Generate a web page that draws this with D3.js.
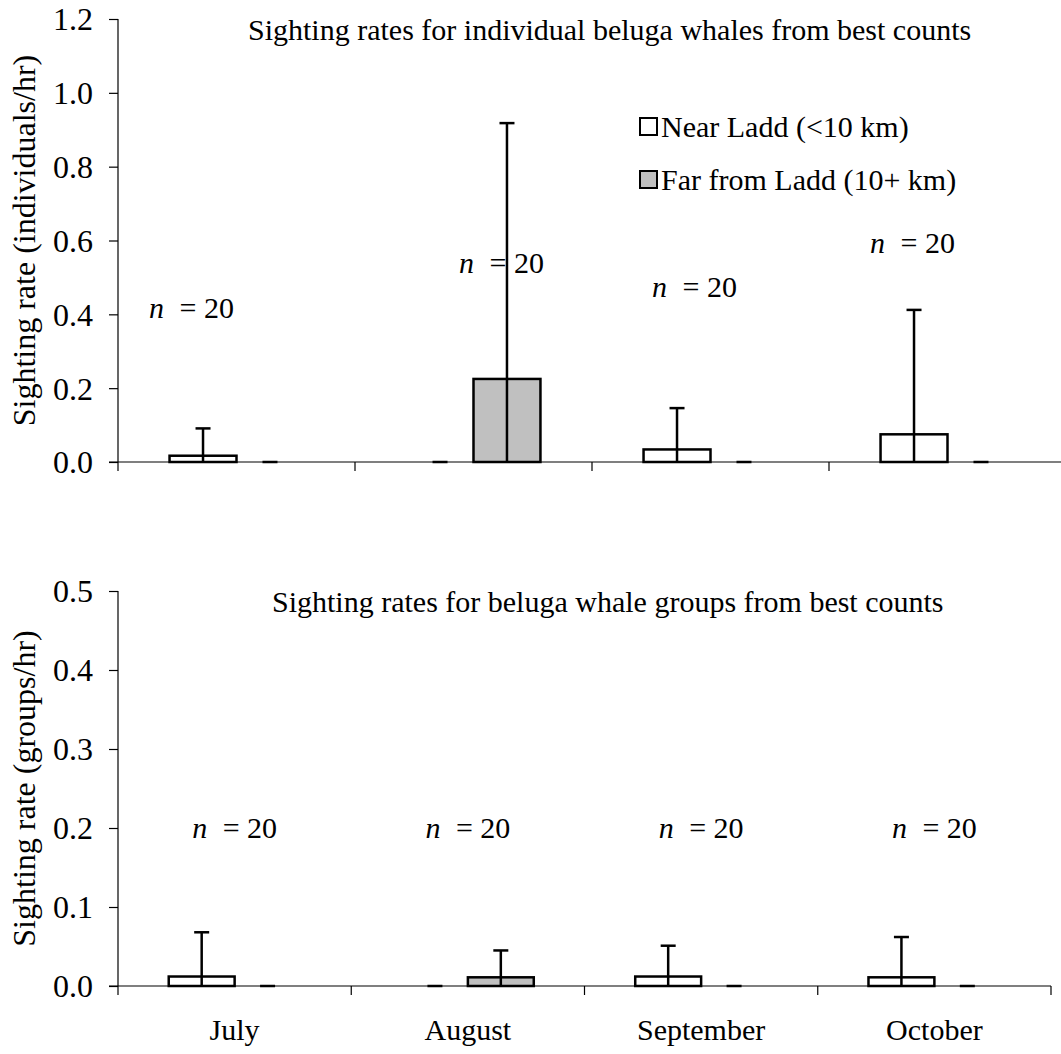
<!DOCTYPE html>
<html>
<head>
<meta charset="utf-8">
<script src="https://cdn.jsdelivr.net/npm/d3@7"></script>
<style>
  html, body { margin: 0; padding: 0; background: #fff; }
  svg text { font-family: "Liberation Serif", "Times New Roman", serif; fill: #000; }
</style>
</head>
<body>
<svg id="chart" width="1061" height="1054"></svg>
<script>
// Months surveyed
const months = ["July", "August", "September", "October"];
const zones = ["near", "far"];
const zoneLabels = ["Near Ladd (<10 km)", "Far from Ladd (10+ km)"];

// Individuals per hour (best counts): mean and upper error
const indivNear    = [0.017, 0.000, 0.034, 0.075];
const indivNearErr = [0.074, 0.000, 0.112, 0.337];
const indivFar     = [0.000, 0.225, 0.000, 0.000];
const indivFarErr  = [0.000, 0.693, 0.000, 0.000];

// Groups per hour (best counts): mean and upper error
const groupNear    = [0.012, 0.000, 0.012, 0.011];
const groupNearErr = [0.056, 0.000, 0.039, 0.051];
const groupFar     = [0.000, 0.011, 0.000, 0.000];
const groupFarErr  = [0.000, 0.034, 0.000, 0.000];

// Sample sizes per month
const sampleN = [20, 20, 20, 20];

// Axis ticks
const indivTicks = [0, 0.2, 0.4, 0.6, 0.8, 1.0, 1.2];
const groupTicks = [0, 0.1, 0.2, 0.3, 0.4, 0.5];

const svg = d3.select("#chart");
const FONT = 30;
const TICK_FONT = 32;

function drawPanel(cfg) {
  const g = svg.append("g");
  const x0 = d3.scaleBand().domain(months).range([cfg.left, cfg.right])
    .paddingInner(0.435).paddingOuter(0.2175);
  const x1 = d3.scaleBand().domain(zones).range([0, x0.bandwidth()]);
  const y = d3.scaleLinear().domain(cfg.domain).range([cfg.bottom, cfg.top]);

  const rows = months.map((m, i) => ({
    month: m,
    values: [
      { zone: "near", v: cfg.near[i], e: cfg.nearErr[i] },
      { zone: "far",  v: cfg.far[i],  e: cfg.farErr[i] }
    ]
  }));

  // y axis
  const yAxis = d3.axisLeft(y).tickValues(cfg.ticks).tickFormat(d3.format(".1f"))
    .tickSize(9).tickPadding(16);
  const ya = g.append("g").attr("transform", `translate(${cfg.left},0)`).call(yAxis);
  ya.attr("font-family", null);
  ya.select(".domain").attr("d", `M0,${cfg.top}V${cfg.bottom + 9}`);
  ya.selectAll("text").style("font-size", TICK_FONT + "px").attr("dy", "0.34em");
  ya.selectAll("line,path").attr("stroke", "#000").attr("stroke-width", 1.2);

  // x axis: category boundary ticks
  const bounds = months.map(m => x0(m) - x0.step() * x0.paddingOuter()).concat([cfg.right]);
  const xa = g.append("g");
  xa.append("line").attr("x1", cfg.left - 9).attr("x2", cfg.right)
    .attr("y1", y(0)).attr("y2", y(0)).attr("stroke", "#000").attr("stroke-width", 1.2);
  xa.selectAll("line.tk").data(bounds.slice(1)).join("line").attr("class", "tk")
    .attr("x1", d => d).attr("x2", d => d)
    .attr("y1", y(0)).attr("y2", y(0) + 9).attr("stroke", "#000").attr("stroke-width", 1.2);
  if (cfg.monthLabels) {
    xa.selectAll("text.month").data(months).join("text").attr("class", "month")
      .attr("x", d => x0(d) + x0.bandwidth() / 2)
      .attr("y", y(0) + 54)
      .attr("text-anchor", "middle").style("font-size", FONT + "px")
      .text(d => d);
  }

  // y axis title
  g.append("text")
    .attr("transform", `translate(${cfg.ytitleX},${(cfg.top + cfg.bottom) / 2}) rotate(-90)`)
    .attr("text-anchor", "middle").style("font-size", TICK_FONT + "px")
    .text(cfg.ytitle);

  // panel title
  g.append("text").attr("x", cfg.titleX).attr("y", cfg.titleY)
    .style("font-size", FONT + "px").text(cfg.title);

  // bars
  const groups = g.selectAll("g.month").data(rows).join("g")
    .attr("transform", d => `translate(${x0(d.month)},0)`);
  groups.selectAll("rect").data(d => d.values.filter(v => v.v > 0)).join("rect")
    .attr("x", d => x1(d.zone)).attr("width", x1.bandwidth())
    .attr("y", d => y(d.v)).attr("height", d => y(0) - y(d.v))
    .attr("fill", d => d.zone === "near" ? "#ffffff" : "#c0c0c0")
    .attr("stroke", "#000").attr("stroke-width", 2.5);

  // error bars (lower arm clipped at zero)
  const eb = groups.selectAll("g.err").data(d => d.values).join("g").attr("class", "err")
    .attr("transform", d => `translate(${x1(d.zone) + x1.bandwidth() / 2},0)`);
  eb.append("line").attr("x1", 0).attr("x2", 0)
    .attr("y1", d => y(Math.max(0, d.v - d.e))).attr("y2", d => y(d.v + d.e))
    .attr("stroke", "#000").attr("stroke-width", 2.5);
  eb.append("line").attr("x1", -7.5).attr("x2", 7.5)
    .attr("y1", d => y(d.v + d.e)).attr("y2", d => y(d.v + d.e))
    .attr("stroke", "#000").attr("stroke-width", 2.5);

  // sample size annotations
  const ann = g.selectAll("text.n").data(months).join("text").attr("class", "n")
    .attr("x", (d, i) => x0(d) + x0.bandwidth() / 2 + cfg.nAnchor[i][0])
    .attr("y", (d, i) => y(cfg.nAnchor[i][1]) + 10)
    .attr("text-anchor", "middle").style("font-size", FONT + "px");
  ann.append("tspan").style("font-style", "italic").text("n");
  ann.append("tspan").attr("dx", 8).text((d, i) => " = " + sampleN[i]);

  return { x0, x1, y };
}

// Individuals panel
drawPanel({
  left: 118, right: 1066, top: 19, bottom: 462, domain: [0, 1.2],
  ticks: indivTicks, near: indivNear, nearErr: indivNearErr, far: indivFar, farErr: indivFarErr,
  ytitle: "Sighting rate (individuals/hr)", ytitleX: 35,
  title: "Sighting rates for individual beluga whales from best counts", titleX: 248, titleY: 40,
  nAnchor: [[-45, 0.417], [28, 0.539], [-16, 0.474], [-35, 0.593]],
  monthLabels: false
});

// Groups panel
drawPanel({
  left: 118, right: 1051, top: 591, bottom: 986, domain: [0, 0.5],
  ticks: groupTicks, near: groupNear, nearErr: groupNearErr, far: groupFar, farErr: groupFarErr,
  ytitle: "Sighting rate (groups/hr)", ytitleX: 35,
  title: "Sighting rates for beluga whale groups from best counts", titleX: 272, titleY: 612,
  nAnchor: [[0, 0.2], [0, 0.2], [0, 0.2], [0, 0.2]],
  monthLabels: true
});

// Legend
const legend = svg.append("g").attr("transform", "translate(640,0)");
zoneLabels.forEach((lab, i) => {
  const yy = 127 + i * 53;
  legend.append("rect").attr("x", 0).attr("y", yy - 9).attr("width", 17).attr("height", 17)
    .attr("fill", i === 0 ? "#ffffff" : "#c0c0c0").attr("stroke", "#000").attr("stroke-width", 2);
  legend.append("text").attr("x", 21).attr("y", yy + 10).style("font-size", FONT + "px").text(lab);
});
</script>
</body>
</html>
